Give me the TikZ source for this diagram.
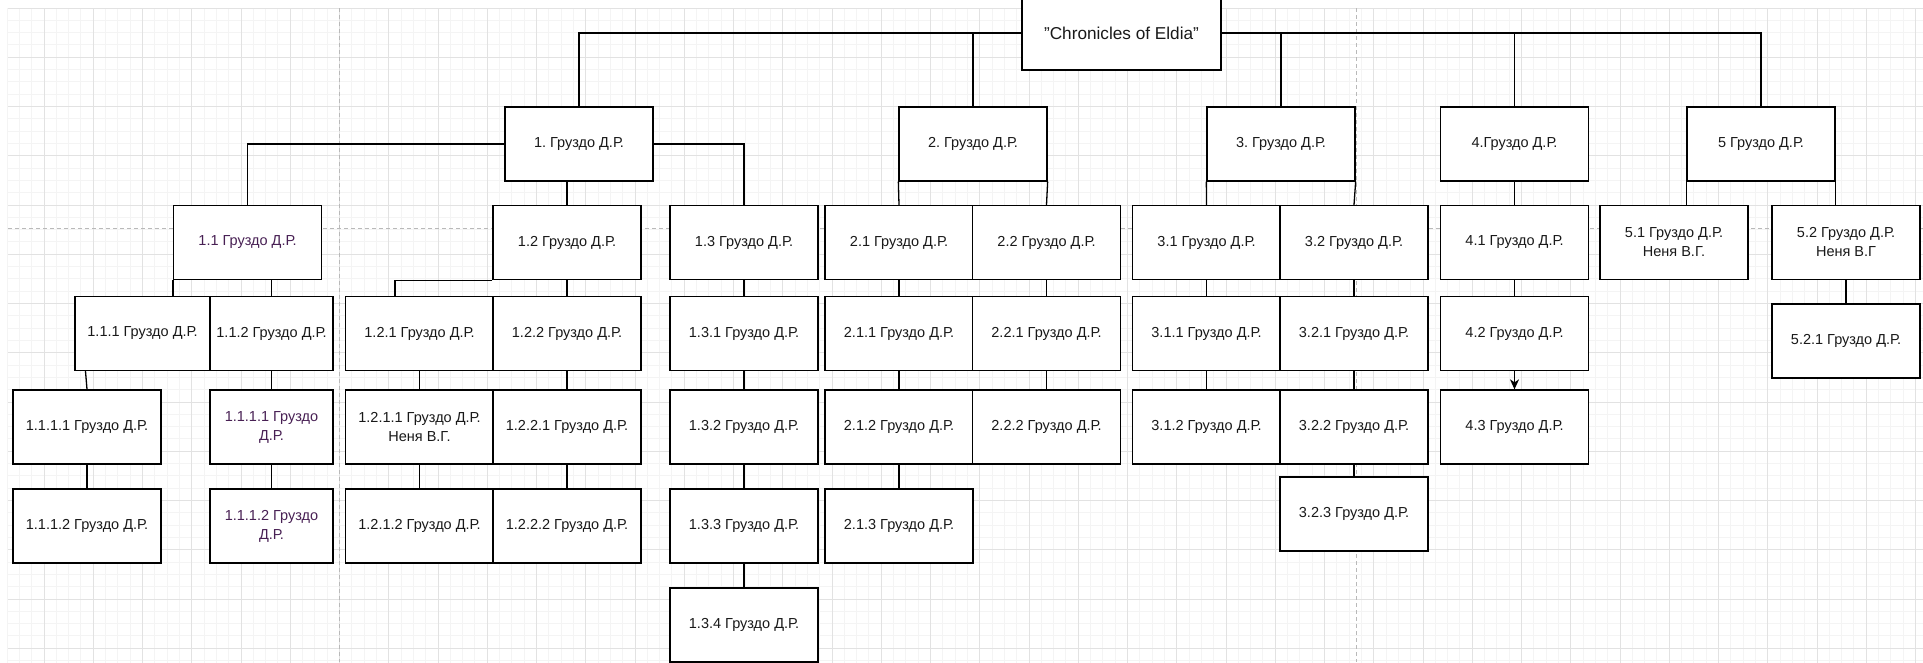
\documentclass[tikz,border=0pt]{standalone}
\usepackage{fontspec}
\setmainfont{Liberation Sans}
\usetikzlibrary{arrows.meta}
\definecolor{gridminor}{RGB}{244,244,244}
\definecolor{gridmajor}{RGB}{226,226,226}
\definecolor{pagebreak}{RGB}{185,185,185}
\definecolor{inkpurple}{RGB}{72,32,84}
\frenchspacing

\tikzset{
  unit/.style={draw, line width=1.3pt, fill=white, minimum width=148pt, minimum height=74pt,
    inner sep=2pt, align=center, text=black!90, font=\fontsize{14.5}{19}\selectfont},
  narrow/.style={minimum width=123pt},
  link/.style={line width=1.3pt},
}

\begin{document}
\begin{tikzpicture}[x=1pt,y=1pt]
\useasboundingbox (0,0) rectangle (1923,-662);
\clip (0,0) rectangle (1923,-662);
\fill[white] (0,0) rectangle (1923,-662);

% paper grid
\draw[gridminor, line width=1pt, step=12.3125, shift={(7.0625,-8)}] (0,-655) grid (1916,0);
\draw[gridmajor, line width=1pt, step=49.25, shift={(-5.25,-8)}] (13.25,-655) grid (1928.25,0);

% page breaks
\draw[pagebreak, line width=1pt, dash pattern=on 4pt off 3pt] (339,-8) -- (339,-662);
\draw[pagebreak, line width=1pt, dash pattern=on 4pt off 3pt] (1356,-8) -- (1356,-662);
\draw[pagebreak, line width=1pt, dash pattern=on 4pt off 3pt] (8,-228) -- (1923,-228);

\node[unit, minimum width=199pt, font=\fontsize{17.2}{20}\selectfont] (root) at (1121.5,-33) {"Chronicles of Eldia"};

% level 1
\node[unit] (n1) at (579,-144) {1. Груздо Д.Р.};
\node[unit] (n2) at (973,-144) {2. Груздо Д.Р.};
\node[unit] (n3) at (1281,-144) {3. Груздо Д.Р.};
\node[unit] (n4) at (1514.5,-144) {4.Груздо Д.Р.};
\node[unit] (n5) at (1761,-144) {5 Груздо Д.Р.};

% level 2
\node[unit, text=inkpurple] (n11) at (247.5,-242.5) {1.1 Груздо Д.Р.};
\node[unit] (n12) at (567,-242.5) {1.2 Груздо Д.Р.};
\node[unit] (n13) at (744,-242.5) {1.3 Груздо Д.Р.};
\node[unit] (n21) at (899,-242.5) {2.1 Груздо Д.Р.};
\node[unit] (n22) at (1046.5,-242.5) {2.2 Груздо Д.Р.};
\node[unit] (n31) at (1206.5,-242.5) {3.1 Груздо Д.Р.};
\node[unit] (n32) at (1354,-242.5) {3.2 Груздо Д.Р.};
\node[unit] (n41) at (1514.5,-242.5) {4.1 Груздо Д.Р.};
\node[unit] (n51) at (1674,-242.5) {5.1 Груздо Д.Р.\\Неня В.Г.};
\node[unit] (n52) at (1846,-242.5) {5.2 Груздо Д.Р.\\Неня В.Г};

% level 3
\node[unit, minimum width=135pt] (n111) at (142.5,-333.5) {1.1.1 Груздо Д.Р.};
\node[unit, narrow] (n112) at (271.5,-333.5) {1.1.2 Груздо Д.Р.};
\node[unit] (n121) at (419.5,-333.5) {1.2.1 Груздо Д.Р.};
\node[unit] (n122) at (567,-333.5) {1.2.2 Груздо Д.Р.};
\node[unit] (n131) at (744,-333.5) {1.3.1 Груздо Д.Р.};
\node[unit] (n211) at (899,-333.5) {2.1.1 Груздо Д.Р.};
\node[unit] (n221) at (1046.5,-333.5) {2.2.1 Груздо Д.Р.};
\node[unit] (n311) at (1206.5,-333.5) {3.1.1 Груздо Д.Р.};
\node[unit] (n321) at (1354,-333.5) {3.2.1 Груздо Д.Р.};
\node[unit] (n42) at (1514.5,-333.5) {4.2 Груздо Д.Р.};
\node[unit] (n521) at (1846,-341) {5.2.1 Груздо Д.Р.};

% level 4
\node[unit] (n1111) at (87,-427) {1.1.1.1 Груздо Д.Р.};
\node[unit, narrow, text=inkpurple] (n1111r) at (271.5,-427) {1.1.1.1 Груздо\\Д.Р.};
\node[unit] (n1211) at (419.5,-427) {1.2.1.1 Груздо Д.Р.\\Неня В.Г.};
\node[unit] (n1221) at (567,-427) {1.2.2.1 Груздо Д.Р.};
\node[unit] (n132) at (744,-427) {1.3.2 Груздо Д.Р.};
\node[unit] (n212) at (899,-427) {2.1.2 Груздо Д.Р.};
\node[unit] (n222) at (1046.5,-427) {2.2.2 Груздо Д.Р.};
\node[unit] (n312) at (1206.5,-427) {3.1.2 Груздо Д.Р.};
\node[unit] (n322) at (1354,-427) {3.2.2 Груздо Д.Р.};
\node[unit] (n43) at (1514.5,-427) {4.3 Груздо Д.Р.};

% level 5 and below
\node[unit] (n1112) at (87,-526) {1.1.1.2 Груздо Д.Р.};
\node[unit, narrow, text=inkpurple] (n1112r) at (271.5,-526) {1.1.1.2 Груздо\\Д.Р.};
\node[unit] (n1212) at (419.5,-526) {1.2.1.2 Груздо Д.Р.};
\node[unit] (n1222) at (567,-526) {1.2.2.2 Груздо Д.Р.};
\node[unit] (n133) at (744,-526) {1.3.3 Груздо Д.Р.};
\node[unit] (n213) at (899,-526) {2.1.3 Груздо Д.Р.};
\node[unit] (n323) at (1354,-514) {3.2.3 Груздо Д.Р.};
\node[unit] (n134) at (744,-625) {1.3.4 Груздо Д.Р.};

% links from the title
\draw[link] (root.west) -| (n1.north);
\draw[link] (root.west) -| (n2.north);
\draw[link] (root.east) -| (n3.north);
\draw[link] (root.east) -| (n4.north);
\draw[link] (root.east) -| (n5.north);

% elbow and corner links
\draw[link] (n1.west) -| (n11.north);
\draw[link] (n1.east) -| (n13.north);
\draw[link] (n1.south -| n12.north) -- (n12.north);
\draw[link] (n2.south west) -- (n21.north);
\draw[link] (n2.south east) -- (n22.north);
\draw[link] (n3.south west) -- (n31.north);
\draw[link] (n3.south east) -- (n32.north);
\draw[link] (n5.south west) -- (n5.south west |- n51.north);
\draw[link] (n5.south east) -- (n5.south east |- n52.north);
\draw[link] (n11.south west) -- (n11.south west |- n111.north);
\draw[link] (n11.south -| n112.north) -- (n112.north);
\draw[link] (n12.south west) -| ([xshift=-24.5pt]n121.north);
\draw[link] ([xshift=-1.5pt]n1111.north |- n111.south) -- (n1111.north);

% straight links
\foreach \a/\b in {n4/n41, n12/n122, n13/n131, n21/n211, n22/n221, n31/n311, n32/n321,
                   n41/n42, n52/n521, n1111/n1112, n112/n1111r, n1111r/n1112r,
                   n121/n1211, n1211/n1212, n122/n1221, n1221/n1222,
                   n131/n132, n132/n133, n133/n134, n211/n212, n212/n213,
                   n221/n222, n311/n312, n321/n322, n322/n323}
  \draw[link] (\a.south) -- (\b.north);

\draw[link, -{Stealth[length=10pt, width=9pt, inset=3pt]}] (n42.south) -- (n43.north);

\end{tikzpicture}
\end{document}
